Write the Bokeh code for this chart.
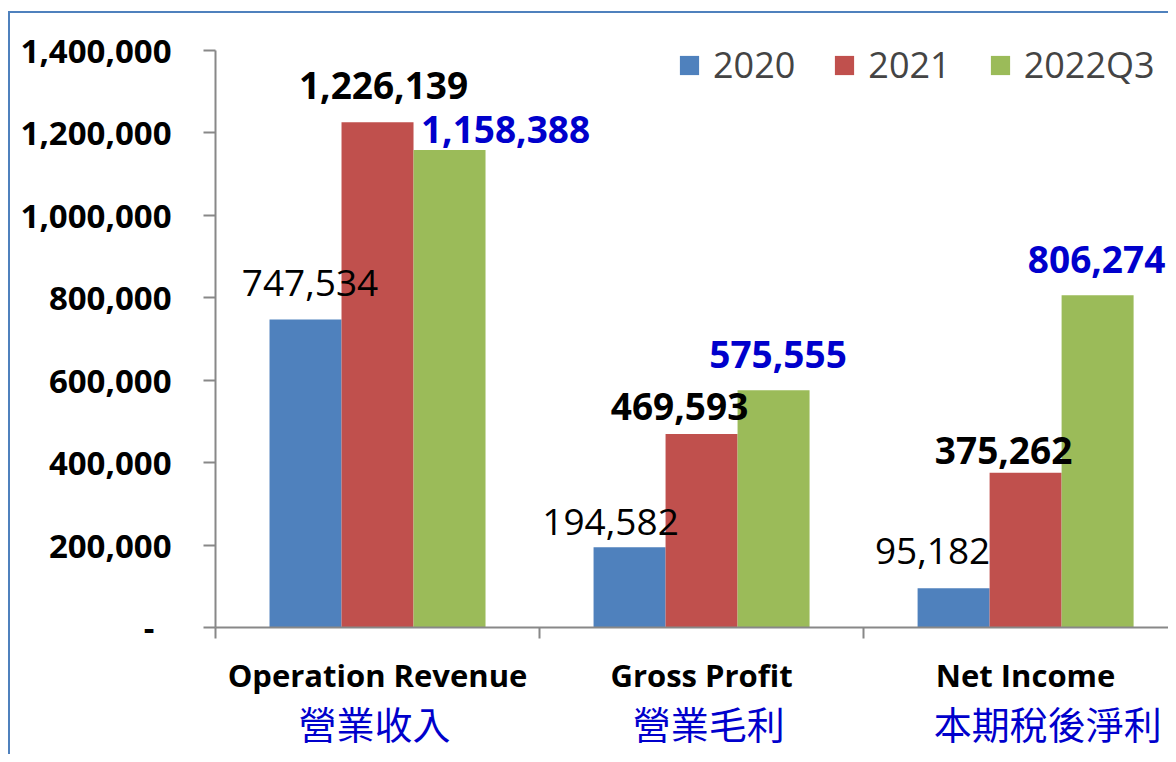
import numpy as np
from bokeh.plotting import figure
from bokeh.models import (ColumnDataSource, LabelSet, Legend, LegendItem, FixedTicker,
                          NumeralTickFormatter, Range1d, LinearAxis)
from bokeh.transform import dodge
from bokeh.core.properties import value
from bokeh.embed import file_html
from bokeh.resources import INLINE

# ---------------- data ----------------
categories_en = ["Operation Revenue", "Gross Profit", "Net Income"]
categories_zh = ["營業收入", "營業毛利", "本期稅後淨利"]
series_names = ["2020", "2021", "2022Q3"]
values_2020 = [747534, 194582, 95182]
values_2021 = [1226139, 469593, 375262]
values_2022q3 = [1158388, 575555, 806274]
y_ticks = [0, 200000, 400000, 600000, 800000, 1000000, 1200000, 1400000]

# ---------------- styles ----------------
colors = ["#4F81BD", "#C0504D", "#9BBB59"]
label_colors = ["#000000", "#000000", "#0000CC"]
label_styles = ["normal", "bold", "bold"]
label_dx = [[4.5, -19, -21], [6, -22, -22], [56, 4.5, -1]]
label_dy = [[36.5, 25, 37], [37, 27, 22], [21, 36, 36]]
zh_shift_px = [-3, 7, 22]
FONT = "Open Sans"
CJK = "Noto Sans CJK TC"
CAT_PX = 324.0
AXIS_TOP = y_ticks[-1]
# frame extends 20px above the top tick so the legend is not clipped
Y_END = AXIS_TOP * (627 - 30) / (627 - 50)

n = len(categories_en)
cat_x = np.arange(n) + 0.5
bar_w = 0.2222
offsets = [-bar_w, 0.0, bar_w]

p = figure(width=1168, height=754, output_backend="svg", toolbar_location=None,
           x_range=Range1d(0, 2.941), y_range=Range1d(0, Y_END),
           min_border_left=215, min_border_right=0, min_border_top=30, min_border_bottom=127)
p.outline_line_color = None
p.xgrid.visible = False
p.ygrid.visible = False
p.background_fill_color = "white"
p.border_fill_color = None
# chart-area border line (left and top edges) drawn behind the transparent canvas
p.styles = {
    "background-color": "white",
    "background-image": "linear-gradient(#4F81BD, #4F81BD), linear-gradient(#4F81BD, #4F81BD)",
    "background-size": "2px 100%, 100% 2px",
    "background-position": "8px 11px, 8px 11px",
    "background-repeat": "no-repeat",
}

all_values = [values_2020, values_2021, values_2022q3]
items = []
for i, (name, vals) in enumerate(zip(series_names, all_values)):
    src = ColumnDataSource(dict(
        x=cat_x, top=vals,
        label=[f"{v:,}" for v in vals],
        dx=label_dx[i], dy=label_dy[i]))
    r = p.vbar(x=dodge("x", offsets[i]), top="top", width=bar_w, source=src,
               fill_color=colors[i], line_color=None)
    items.append(LegendItem(label=name, renderers=[r]))
    p.add_layout(LabelSet(x=dodge("x", offsets[i]), y="top", text="label", source=src,
                          x_offset="dx", y_offset="dy",
                          text_align="center", text_baseline="middle",
                          text_font=value(FONT), text_font_size="37px",
                          text_font_style=label_styles[i],
                          text_color=label_colors[i]))

# axes
axis_color = "#888888"
p.yaxis.ticker = FixedTicker(ticks=y_ticks)
p.yaxis.bounds = (0, AXIS_TOP)
p.yaxis.formatter = NumeralTickFormatter(format="0,0")
p.yaxis.major_label_overrides = {0: "-\u00a0\u00a0"}
p.yaxis.major_label_text_font = FONT
p.yaxis.major_label_text_font_style = "bold"
p.yaxis.major_label_text_font_size = "33px"
p.yaxis.major_label_text_color = "#000000"
p.yaxis.major_label_standoff = 32
p.yaxis.major_tick_out = 12
p.yaxis.major_tick_in = 0
p.yaxis.minor_tick_line_color = None
p.yaxis.axis_line_color = axis_color
p.yaxis.axis_line_width = 2
p.yaxis.major_tick_line_color = axis_color
p.yaxis.major_tick_line_width = 2

# main x axis: English labels at category centres, boundary ticks as minor ticks
p.xaxis.ticker = FixedTicker(ticks=list(cat_x), minor_ticks=list(range(n + 1)))
p.xaxis.major_label_overrides = {float(x): t for x, t in zip(cat_x, categories_en)}
p.xaxis.major_label_text_font = FONT
p.xaxis.major_label_text_font_style = "bold"
p.xaxis.major_label_text_font_size = "31px"
p.xaxis.major_label_text_color = "#000000"
p.xaxis.major_label_standoff = 15
p.xaxis.major_tick_line_color = None
p.xaxis.major_tick_out = 0
p.xaxis.major_tick_in = 0
p.xaxis.minor_tick_out = 11
p.xaxis.minor_tick_in = 0
p.xaxis.minor_tick_line_color = axis_color
p.xaxis.minor_tick_line_width = 2
p.xaxis.axis_line_color = axis_color
p.xaxis.axis_line_width = 2

# second x axis: Chinese labels
zh_ticks = [float(v) for v in np.round(cat_x + np.array(zh_shift_px) / CAT_PX, 3)]
zh_axis = LinearAxis(ticker=FixedTicker(ticks=zh_ticks),
                     major_label_overrides={t: s for t, s in zip(zh_ticks, categories_zh)},
                     major_label_text_font=CJK, major_label_text_font_size="38px",
                     major_label_text_color="#0000CC", major_label_standoff=-4,
                     axis_line_color=None, major_tick_line_color=None,
                     minor_tick_line_color=None, major_tick_out=0, major_tick_in=0)
p.add_layout(zh_axis, "below")

legend = Legend(items=items, orientation="horizontal", location=(462, 538),
                label_text_font=FONT, label_text_font_size="36px",
                glyph_width=24, glyph_height=24, label_standoff=12, spacing=37,
                padding=0, margin=0, border_line_color=None, background_fill_alpha=0)
p.add_layout(legend)

open("out.html", "w").write(file_html(p, INLINE))
